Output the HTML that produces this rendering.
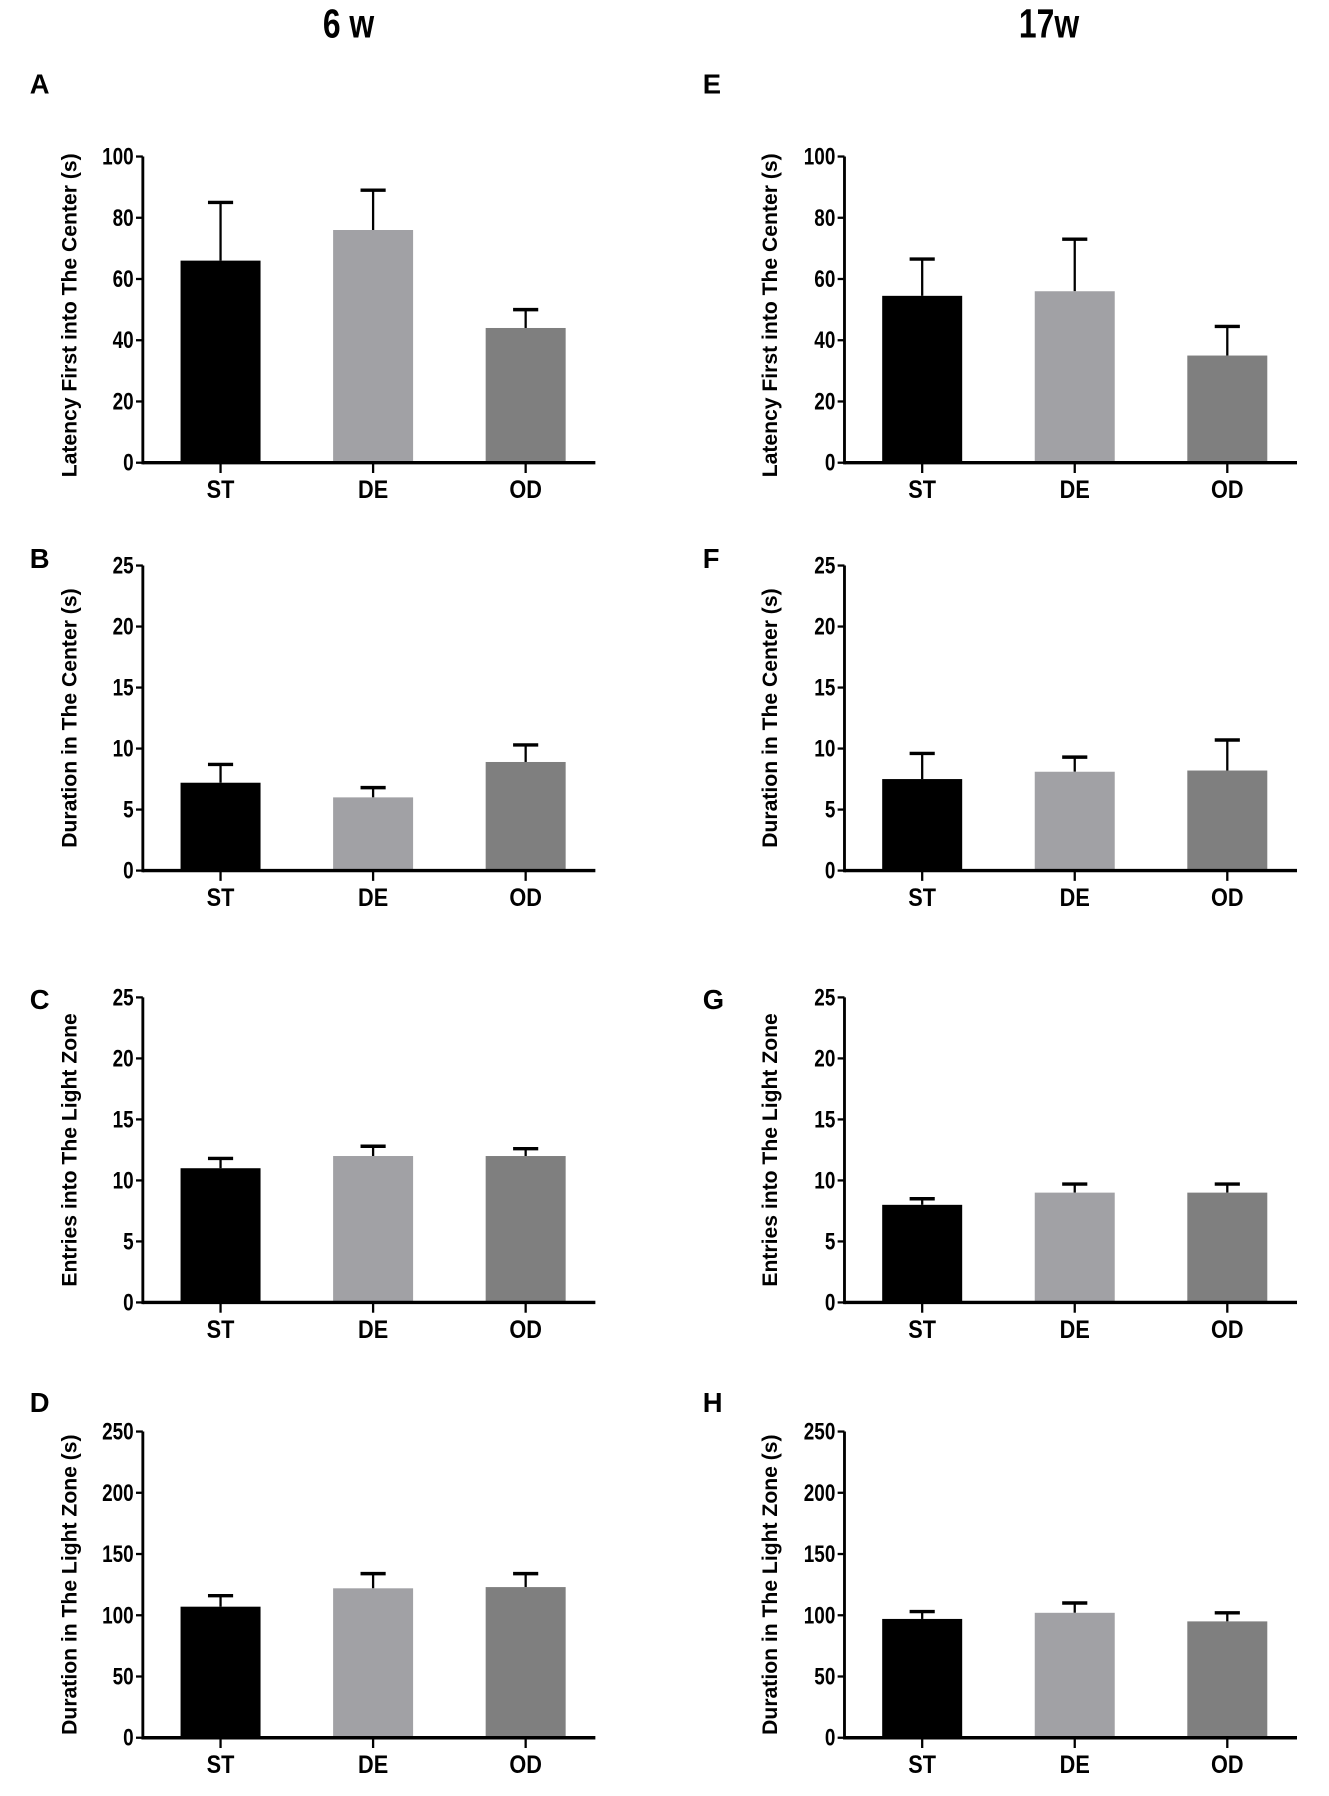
<!DOCTYPE html>
<html><head><meta charset="utf-8"><style>
html,body{margin:0;padding:0;background:#fff}
svg{display:block}
text{font-family:"Liberation Sans",Arial,sans-serif;font-weight:bold;fill:#000}
</style></head><body>
<svg id="fig" width="1329" height="1796" viewBox="0 0 1163 1572" preserveAspectRatio="none" xmlns="http://www.w3.org/2000/svg">
<text x="305" y="33" font-size="31" text-anchor="middle" transform="translate(305,33) scale(0.9,1.15) translate(-305,-33)">6 w</text>
<text x="918" y="33" font-size="31" text-anchor="middle" transform="translate(918,33) scale(0.9,1.15) translate(-918,-33)">17w</text>
</svg>
<script>
const categories = ["ST","DE","OD"];
const colors = ["#000000","#a1a1a5","#7f7f7f"];
const letters = ["A","B","C","D","E","F","G","H"];
const titles = ["Latency First into The Center (s)","Duration in The Center (s)","Entries into The Light Zone","Duration in The Light Zone (s)"];
const yMax = [100,25,25,250];
const yStep = [20,5,5,50];
const means6 = [[66,76,44],[7.2,6.0,8.9],[11,12,12],[107,122,123]];
const errs6 = [[19,13,6],[1.5,0.8,1.4],[0.8,0.8,0.6],[9,12,11]];
const means17 = [[54.5,56,35],[7.5,8.1,8.2],[8,9,9],[97,102,95]];
const errs17 = [[12,17,9.5],[2.1,1.2,2.5],[0.5,0.7,0.7],[6,8,7]];

const NS = "http://www.w3.org/2000/svg";
const svg = document.getElementById("fig");
function mk(tag, attrs, parent){const e=document.createElementNS(NS,tag);for(const k in attrs)e.setAttribute(k,attrs[k]);(parent||svg).appendChild(e);return e;}
const rowTop = [137,495,873,1253];
const rowBot = [405,762,1140,1521];
const letterY = [82,497,883,1236];
const colAxis = [125,739];
const colLetter = [26,615];
const colTitleX = [60,673];

for(let c=0;c<2;c++){
  for(let r=0;r<4;r++){
    const means = c===0?means6[r]:means17[r];
    const errs = c===0?errs6[r]:errs17[r];
    const g = mk("g",{});
    
    
    const ax = colAxis[c], top = rowTop[r], bot = rowBot[r];
    const y = v => bot - (v/yMax[r])*(bot-top);
    const xc = i => ax + 68 + i*133.5;
    const lt = mk("text",{x:colLetter[c],y:letterY[r],"font-size":24},g);
    lt.textContent = letters[c*4+r];
    
    
    const tt = mk("text",{x:0,y:0,"font-size":18.5,"text-anchor":"middle",transform:`translate(${colTitleX[c]+7},${(top+bot)/2+(r===0?5:0)}) rotate(-90)`},g);
    tt.textContent = titles[r];
    
    
    means.forEach((m,i)=>{
      const x = xc(i);
      const el = mk("line",{x1:x,x2:x,y1:y(m),y2:y(m+errs[i]),stroke:"#000","stroke-width":2},g);
      
      
      const cap = mk("line",{x1:x-11,x2:x+11,y1:y(m+errs[i]),y2:y(m+errs[i]),stroke:"#000","stroke-width":3},g);
      
      
      const b = mk("rect",{x:x-35,y:y(m),width:70,height:bot-y(m),fill:colors[i]},g);
      
      
      const tk = mk("line",{x1:x,x2:x,y1:bot,y2:bot+9,stroke:"#000","stroke-width":2},g);
      
      
      const lb = mk("text",{x:x,y:bot+31,"font-size":20,"text-anchor":"middle",transform:`translate(${x},${bot+31}) scale(0.95,1.1) translate(${-x},${-(bot+31)})`},g);
      lb.textContent = categories[i];
      
      
    });
    const ya = mk("line",{x1:ax,x2:ax,y1:top,y2:bot+1.5,stroke:"#000","stroke-width":2.5},g);
    
    
    const xa = mk("line",{x1:ax,x2:ax+396,y1:bot,y2:bot,stroke:"#000","stroke-width":3},g);
    
    
    for(let v=0; v<=yMax[r]; v+=yStep[r]){
      const t = mk("line",{x1:ax-6,x2:ax,y1:y(v),y2:y(v),stroke:"#000","stroke-width":2},g);
      
      
      const tl = mk("text",{x:ax-8,y:y(v)+7,"font-size":18,"text-anchor":"end",transform:`translate(${ax-8},${y(v)+7}) scale(0.92,1.15) translate(${-(ax-8)},${-(y(v)+7)})`},g);
      tl.textContent = v;
      
      
    }
  }
}
</script>
</body></html>
